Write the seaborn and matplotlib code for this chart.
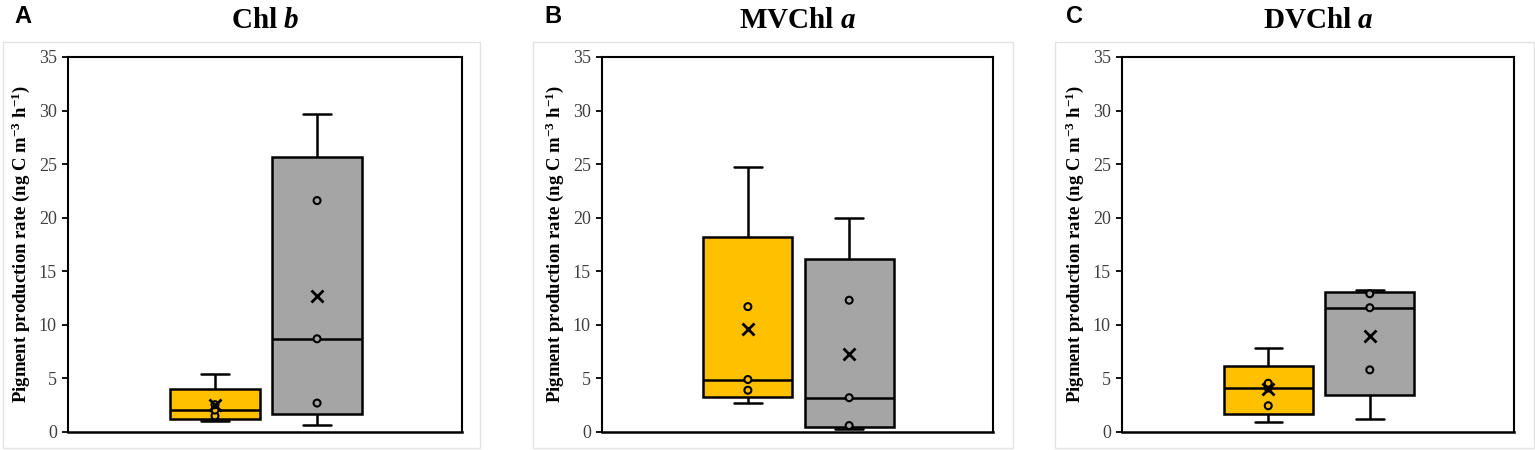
import matplotlib

matplotlib.use("Agg")

import matplotlib.pyplot as plt
import numpy as np
import pandas as pd
import seaborn as sns
from matplotlib.patches import Rectangle

groups = ["Group 1", "Group 2"]
chlb_g1 = [1.0, 1.5, 2.05, 2.55, 5.4]
chlb_g2 = [0.7, 2.7, 8.7, 21.6, 29.7]
mvchla_g1 = [2.7, 3.9, 4.9, 11.7, 24.7]
mvchla_g2 = [0.3, 0.6, 3.2, 12.3, 20.0]
dvchla_g1 = [0.95, 2.45, 4.1, 4.55, 7.8]
dvchla_g2 = [1.2, 5.8, 11.6, 12.9, 13.3]

panel_letters = ["A", "B", "C"]
panel_titles = [r"Chl $\mathit{b}$", r"MVChl $\mathit{a}$", r"DVChl $\mathit{a}$"]
panel_data = [(chlb_g1, chlb_g2), (mvchla_g1, mvchla_g2), (dvchla_g1, dvchla_g2)]
y_ticks = [0, 5, 10, 15, 20, 25, 30, 35]
y_label = r"Pigment production rate (ng C m$^{-3}$ h$^{-1}$)"

palette = {"Group 1": "#FFC000", "Group 2": "#A5A5A5"}


def excel_summary(values):
    """Five-number summary with Excel's exclusive quartiles."""
    v = np.sort(np.asarray(values, dtype=float))
    n = len(v)

    def quart(p):
        pos = p * (n + 1) - 1
        lo = int(np.floor(pos))
        frac = pos - lo
        return v[lo] + frac * (v[lo + 1] - v[lo])

    return [v[0], quart(0.25), float(np.median(v)), quart(0.75), v[-1]]


sns.set_theme(style="white")
plt.rcParams["font.family"] = ["Liberation Serif", "DejaVu Serif"]
plt.rcParams["text.color"] = "black"
plt.rcParams["axes.labelcolor"] = "black"
plt.rcParams["mathtext.fontset"] = "custom"
plt.rcParams["mathtext.rm"] = "Liberation Serif:bold"
plt.rcParams["mathtext.bf"] = "Liberation Serif:bold"
plt.rcParams["mathtext.it"] = "Liberation Serif:italic:bold"
plt.rcParams["mathtext.default"] = "rm"

W, H = 1535, 450
fig = plt.figure(figsize=(W / 100, H / 100), dpi=100)

axes_px = [(68, 462), (602, 993), (1122, 1514)]
frame_px = [(3, 480), (533, 1013), (1055, 1534)]
top_px, bottom_px = 57, 432

for i, (letter, title, (g1, g2)) in enumerate(zip(panel_letters, panel_titles, panel_data)):
    # faint chart-area border like the spreadsheet export
    fx0, fx1 = frame_px[i]
    fig.patches.append(Rectangle((fx0 / W, (H - 448) / H), (fx1 - fx0) / W, (448 - 42) / H,
                                 transform=fig.transFigure, fill=False,
                                 edgecolor="#E3E3E3", linewidth=1.0, zorder=0))

    x0, x1 = axes_px[i]
    ax = fig.add_axes([x0 / W, (H - bottom_px) / H, (x1 - x0) / W, (bottom_px - top_px) / H])

    raw = pd.DataFrame({
        "group": [groups[0]] * len(g1) + [groups[1]] * len(g2),
        "value": list(g1) + list(g2),
    })
    box = pd.DataFrame({
        "group": [groups[0]] * 5 + [groups[1]] * 5,
        "value": excel_summary(g1) + excel_summary(g2),
    })
    inner = raw.groupby("group", group_keys=False).apply(
        lambda d: d.sort_values("value").iloc[1:-1])

    sns.boxplot(data=box, x="group", y="value", hue="group", order=groups,
                palette=palette, saturation=1, width=0.88, whis=(0, 100),
                linecolor="black", linewidth=1.8, capwidths=0.27, legend=False, ax=ax)
    sns.stripplot(data=inner, x="group", y="value", hue="group", order=groups,
                  palette=palette, jitter=False, size=5, edgecolor="black",
                  linewidth=1.5, legend=False, zorder=4, ax=ax)
    sns.pointplot(data=raw, x="group", y="value", order=groups, estimator="mean",
                  errorbar=None, color="black", marker="x", markersize=8,
                  markeredgewidth=2.0, linestyle="none", zorder=5, ax=ax)

    ax.set_xlim(-1.44, 2.42)
    ax.set_ylim(0, 35)
    ax.set_yticks(y_ticks)
    ax.set_xticks([])
    ax.set_xlabel("")
    ax.set_ylabel(y_label, fontsize=13.5, fontweight="bold", labelpad=5, color="black")
    ax.tick_params(axis="y", left=True, length=4, width=1.3, color="black",
                   labelsize=13, labelcolor="#404040", pad=4)
    for name, spine in ax.spines.items():
        spine.set_visible(True)
        spine.set_color("black")
        spine.set_linewidth(1.8 if name == "bottom" else 1.5)

    ax.set_title(title, fontsize=21, fontweight="bold", pad=21, color="black")
    fig.text(frame_px[i][0] / W + 11 / W, 1 - 5 / H, letter, ha="left", va="top",
             fontsize=17, fontweight="bold", color="black",
             family=["Liberation Sans", "DejaVu Sans"])

fig.savefig("out.png", dpi=100)
